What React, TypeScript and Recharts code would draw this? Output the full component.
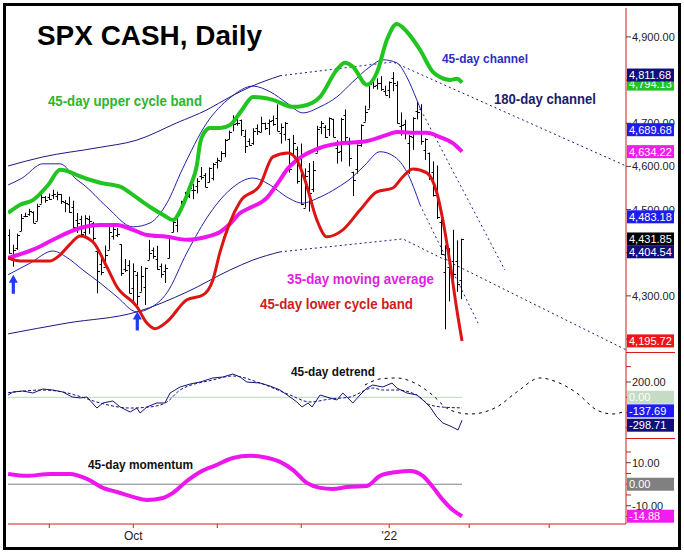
import React from "react";
import { ComposedChart, Bar, Line, Scatter, XAxis, YAxis, ReferenceDot } from "recharts";

// trading-day index: 0 = Aug 18 2021, 95 = Jan 3 2022, 113 = Jan 28 2022
const X_DOMAIN: [number, number] = [-0.33, 154.2];
const MONTH_TICKS = [10, 31, 52, 73, 95, 115, 135];
const MONTH_LABELS: Record<number, string> = { 31: "Oct", 95: "'22" };

const PRICE_DOMAIN: [number, number] = [4170, 4967];
const DETREND_DOMAIN: [number, number] = [-531, 591];
const MOMENTUM_DOMAIN: [number, number] = [-18.5, 21.5];
const PRICE_TICKS = [4200, 4300, 4400, 4500, 4600, 4700, 4800, 4900];
const PRICE_LABELED = [4300, 4500, 4600, 4700, 4900];
const DETREND_TICKS = [400, 200, 0, -200, -400];
const MOMENTUM_TICKS = [15, 10, 5, 0, -5, -10, -15];

// daily OHLC, Aug 18 2021 .. Jan 28 2022
const OPEN = [
  4440.9, 4382.4, 4410.6, 4450.3, 4484.4, 4490.5, 4493.8, 4474.1, 4513.8, 4529.8,
  4528.8, 4534.5, 4532.4, 4535.4, 4518.1, 4513.0, 4506.9, 4474.8, 4479.3, 4447.5, 4477.1, 4469.7, 4402.9, 4374.5, 4367.4, 4406.8, 4438.0, 4442.1, 4419.5, 4362.4, 4370.7,
  4317.2, 4348.8, 4309.9, 4319.6, 4383.7, 4406.5, 4385.4, 4368.3, 4358.0, 4386.8, 4447.7, 4463.7, 4497.3, 4524.4, 4532.2, 4546.1, 4553.7, 4578.7, 4580.2, 4562.8, 4572.9,
  4610.6, 4613.3, 4630.7, 4662.9, 4699.3, 4701.5, 4707.3, 4670.3, 4659.4, 4655.2, 4689.3, 4679.4, 4701.5, 4700.7, 4708.4, 4712.0, 4678.5, 4675.8, 4664.6, 4628.8, 4640.3,
  4602.8, 4504.7, 4589.5, 4548.4, 4632.0, 4690.9, 4691.0, 4687.6, 4710.3, 4642.0, 4636.5, 4719.1, 4652.5, 4587.9, 4595.0, 4650.4, 4704.0, 4734.0, 4795.5, 4788.6, 4794.2, 4775.2,
  4778.1, 4804.5, 4788.0, 4693.4, 4697.7, 4655.3, 4669.1, 4728.6, 4733.6, 4638.0, 4632.2, 4588.0, 4547.4, 4471.4, 4356.3, 4366.6, 4380.6, 4380.6, 4336.2,
];
const HIGH = [
  4454.3, 4418.6, 4444.4, 4489.9, 4492.8, 4501.7, 4495.9, 4513.3, 4537.4, 4531.4,
  4537.1, 4545.9, 4541.5, 4535.4, 4521.8, 4529.9, 4520.5, 4492.0, 4485.7, 4486.9, 4485.9, 4471.5, 4402.9, 4394.9, 4416.8, 4465.4, 4463.1, 4457.3, 4419.5, 4385.6, 4382.6,
  4375.2, 4355.5, 4369.2, 4365.6, 4430.0, 4412.0, 4415.9, 4374.9, 4372.9, 4439.7, 4475.8, 4488.8, 4520.4, 4540.9, 4551.4, 4559.7, 4572.6, 4598.5, 4584.6, 4597.6, 4608.1,
  4620.3, 4635.2, 4663.5, 4683.0, 4718.5, 4714.9, 4708.5, 4684.9, 4664.6, 4688.5, 4697.4, 4715.0, 4701.5, 4708.8, 4717.8, 4743.8, 4699.4, 4702.9, 4664.6, 4673.0, 4646.0,
  4652.9, 4595.5, 4608.0, 4612.6, 4694.0, 4705.1, 4695.3, 4713.6, 4710.3, 4660.5, 4712.6, 4732.0, 4666.7, 4587.9, 4651.1, 4697.7, 4740.7, 4791.5, 4807.0, 4804.1, 4808.9, 4786.8,
  4796.6, 4818.6, 4797.7, 4725.0, 4708.0, 4673.0, 4714.1, 4749.0, 4744.1, 4665.1, 4632.2, 4611.6, 4602.1, 4494.5, 4417.4, 4411.0, 4453.2, 4428.7, 4432.7,
];
const LOW = [
  4397.6, 4367.7, 4406.8, 4450.3, 4482.3, 4485.7, 4469.0, 4474.1, 4513.8, 4515.8,
  4522.0, 4524.7, 4521.7, 4513.0, 4494.0, 4492.1, 4457.7, 4445.7, 4435.5, 4438.4, 4443.8, 4427.8, 4305.9, 4348.0, 4367.4, 4406.8, 4430.3, 4436.2, 4346.3, 4355.1, 4306.2,
  4288.5, 4278.9, 4309.9, 4278.9, 4383.7, 4386.2, 4360.6, 4342.1, 4329.9, 4386.8, 4447.7, 4447.5, 4496.4, 4524.4, 4526.9, 4524.0, 4537.4, 4569.2, 4551.7, 4562.8, 4567.6,
  4595.1, 4613.3, 4621.2, 4662.6, 4681.3, 4694.4, 4670.9, 4630.9, 4648.3, 4650.0, 4672.9, 4679.4, 4684.4, 4672.8, 4694.2, 4682.2, 4652.7, 4659.9, 4585.4, 4625.3, 4560.0,
  4510.3, 4504.7, 4495.1, 4540.5, 4632.0, 4674.5, 4666.0, 4670.2, 4667.6, 4606.5, 4611.2, 4651.9, 4600.2, 4531.1, 4583.2, 4645.5, 4704.0, 4734.0, 4780.0, 4778.1, 4775.3, 4765.8,
  4758.2, 4774.3, 4699.4, 4671.3, 4662.7, 4582.2, 4638.3, 4709.0, 4650.3, 4614.8, 4568.7, 4530.2, 4478.0, 4395.3, 4222.6, 4287.1, 4304.8, 4309.5, 4292.5,
];
const CLOSE = [
  4400.3, 4405.8, 4441.7, 4479.5, 4486.2, 4496.2, 4470.0, 4509.4, 4528.8, 4522.7,
  4524.1, 4537.0, 4535.4, 4520.0, 4514.1, 4493.3, 4458.6, 4468.7, 4443.1, 4480.7, 4473.8, 4433.0, 4357.7, 4354.2, 4395.6, 4449.0, 4455.5, 4443.1, 4352.6, 4359.5, 4307.5,
  4357.0, 4300.5, 4345.7, 4363.6, 4399.8, 4391.3, 4361.2, 4350.7, 4363.8, 4438.3, 4471.4, 4486.5, 4519.6, 4536.2, 4549.8, 4544.9, 4566.5, 4574.8, 4551.7, 4596.4, 4605.4,
  4613.7, 4630.7, 4660.6, 4680.1, 4697.5, 4701.7, 4685.3, 4646.7, 4649.3, 4682.9, 4682.8, 4700.9, 4688.7, 4704.5, 4698.0, 4682.9, 4690.7, 4701.5, 4594.6, 4655.3, 4567.0,
  4513.0, 4577.1, 4538.4, 4591.7, 4686.8, 4701.2, 4667.5, 4712.0, 4669.0, 4634.1, 4709.9, 4668.7, 4620.6, 4568.0, 4649.2, 4696.6, 4725.8, 4791.2, 4786.4, 4793.1, 4778.7, 4766.2,
  4796.6, 4793.5, 4700.6, 4696.1, 4677.0, 4670.3, 4713.1, 4726.4, 4659.0, 4662.9, 4577.1, 4532.8, 4482.7, 4397.9, 4410.1, 4356.5, 4349.9, 4326.5, 4431.85,
];

// 45-day upper cycle band
const UPPER_BAND_X = [-0.3, 2.7, 5.9, 9.7, 12.7, 15.2, 16.9, 22.7, 27.7, 30.9, 35.2, 38.4, 40.9, 43.2, 45.2, 46.9, 47.7, 48.7, 50.2, 52.7, 55.2, 58.2, 60.9, 63.4, 65.9, 70.9, 73.4, 77.7, 81.9, 83.9, 85.9, 89.4, 91.9, 94.4, 96.9, 99.4, 102.7, 105.9, 107.7, 110.2, 111.9, 113.2];
const UPPER_BAND = [4492, 4511, 4522, 4557, 4592, 4587, 4580, 4562, 4553, 4534, 4506, 4488, 4476, 4506, 4553, 4603, 4654, 4678, 4689, 4689, 4696, 4731, 4761, 4759, 4754, 4738, 4740, 4761, 4824, 4840, 4831, 4789, 4817, 4893, 4930, 4912, 4870, 4819, 4807, 4800, 4803, 4794.13];

// 35-day moving average
const MA_X = [-0.3, 5.9, 10.9, 16.9, 22.7, 26.9, 30.9, 34.4, 39.4, 44.4, 49.4, 52.7, 55.2, 57.7, 60.2, 64.4, 67.7, 69.4, 72.7, 77.7, 83.4, 88.4, 94.4, 96.9, 100.2, 104.4, 107.7, 110.9, 113.2];
const MA = [4388, 4407, 4430, 4455, 4464, 4464, 4453, 4441, 4437, 4430, 4437, 4448, 4467, 4492, 4504, 4527, 4569, 4592, 4620, 4643, 4654, 4657, 4673, 4680, 4678, 4678, 4668, 4654, 4634.22];

// 45-day lower cycle band
const LOWER_BAND_X = [-0.3, 2.7, 10.2, 12.7, 15.2, 17.7, 20.9, 24.4, 26.9, 31.9, 34.4, 36.4, 39.4, 44.4, 48.4, 50.9, 52.7, 55.2, 57.7, 62.7, 65.9, 69.7, 71.9, 73.9, 76.9, 79.4, 83.4, 87.7, 91.9, 95.9, 98.4, 100.9, 104.4, 106.9, 108.4, 110.2, 111.9, 113.2];
const LOWER_BAND = [4388, 4381, 4381, 4395, 4420, 4439, 4425, 4367, 4321, 4275, 4237, 4224, 4240, 4291, 4302, 4337, 4402, 4471, 4518, 4557, 4622, 4631, 4615, 4569, 4476, 4437, 4453, 4499, 4541, 4550, 4576, 4594, 4585, 4539, 4476, 4376, 4268, 4195.72];

// 45-day channel
const CH45_UP_X = [-0.3, 3.2, 8.4, 12.7, 16.9, 18.4, 24.4, 30.9, 35.2, 39.4, 43.2, 49.4, 55.2, 60.9, 65.2, 69.4, 73.4, 77.7, 81.9, 85.9, 90.2, 93.4, 96.9, 99.4, 101.9, 102.9];
const CH45_UP = [4557, 4573, 4606, 4606, 4569, 4559, 4506, 4460, 4469, 4515, 4592, 4701, 4759, 4786, 4773, 4747, 4724, 4738, 4761, 4796, 4831, 4847, 4840, 4807, 4754, 4731];
const CH45_UP_PROJ_X = [102.9, 123.9];
const CH45_UP_PROJ = [4731, 4360];
const CH45_DN_X = [-0.3, 5.2, 10.9, 14.4, 18.4, 22.7, 26.9, 31.9, 35.2, 39.4, 44.4, 50.2, 55.2, 60.9, 65.2, 69.4, 73.2, 77.7, 81.9, 85.9, 88.9, 92.7, 96.4, 99.4, 102.7];
const CH45_DN = [4349, 4376, 4404, 4389, 4360, 4330, 4298, 4263, 4272, 4307, 4400, 4492, 4546, 4573, 4557, 4529, 4515, 4529, 4550, 4576, 4603, 4634, 4622, 4587, 4511];
const CH45_DN_PROJ_X = [102.7, 117.2];
const CH45_DN_PROJ = [4511, 4237];

// 180-day channel
const CH180_UP_X = [-0.3, 8.4, 21.9, 31.9, 41.9, 49.4, 55.2, 60.2, 67.7];
const CH180_UP = [4601, 4622, 4643, 4661, 4701, 4731, 4761, 4784, 4810];
const CH180_UP_PROJ_X = [67.7, 95.9, 154.2];
const CH180_UP_PROJ = [4810, 4842, 4601];
const CH180_DN_X = [-0.3, 14.4, 31.9, 44.4, 55.2, 60.9, 67.7];
const CH180_DN = [4212, 4237, 4263, 4309, 4360, 4383, 4402];
const CH180_DN_PROJ_X = [67.7, 98.4, 154.2];
const CH180_DN_PROJ = [4402, 4432, 4175];

// cycle-low arrows
const ARROW_X = [1, 32];
const ARROW_Y = [4349, 4264];

// 45-day detrend
const DETREND_X = [-0.3, 0.9, 3.4, 5.9, 8.4, 10.9, 13.4, 15.7, 17.7, 19.4, 21.9, 23.4, 25.9, 27.7, 30.2, 31.9, 32.7, 34.4, 36.9, 38.9, 40.2, 42.7, 45.2, 47.7, 50.9, 53.4, 55.9, 57.7, 59.4, 62.7, 65.2, 67.7, 70.2, 71.9, 73.2, 74.7, 75.7, 77.7, 80.2, 81.9, 83.4, 85.9, 87.7, 89.4, 90.9, 93.4, 95.7, 96.9, 99.4, 101.9, 103.4, 105.2, 106.9, 108.4, 110.2, 112.2, 113.2];
const DETREND = [30, 69, 82, 56, 108, 95, 69, 4, -9, 4, -140, -74, -48, -126, -192, -140, -205, -126, -74, -74, 56, 134, 173, 199, 252, 265, 304, 265, 199, 186, 147, 95, 4, -61, -126, -74, -126, 30, -9, -35, 56, -74, 30, 121, 160, 134, 186, 121, 56, 30, -35, -126, -257, -335, -374, -426, -298.71];
const DETREND_AVG_X = [-0.3, 8.4, 13.4, 17.7, 22.7, 30.2, 35.2, 39.4, 42.7, 50.9, 55.9, 62.7, 70.2, 75.2, 80.2, 85.2, 90.9, 93.4, 96.9, 101.9, 105.2, 109.0, 113.2];
const DETREND_AVG = [60, 95, 69, 10, -74, -140, -126, -61, 95, 226, 278, 186, 30, -61, -22, 4, 121, 95, 95, 30, -100, -130, -137.69];
const CYCLE_PROJ_X = [88.9, 92.7, 96.9, 101.4, 105.2, 110.2, 115.2, 121.9, 126.9, 132.7, 136.9, 141.9, 146.9, 150.9, 153.4];
const CYCLE_PROJ = [160, 239, 252, 186, 56, -166, -218, -126, 69, 252, 200, 56, -166, -218, -192];

// 45-day momentum
const MOMENTUM_X = [-0.3, 4.4, 10.2, 15.2, 19.4, 23.4, 26.9, 30.9, 34.4, 38.4, 40.9, 44.4, 47.7, 51.9, 55.9, 60.2, 63.4, 67.7, 70.9, 74.4, 77.7, 80.9, 84.4, 89.4, 92.7, 96.9, 100.2, 103.4, 105.9, 108.4, 110.9, 113.2];
const MOMENTUM = [4.8, 3.9, 4.8, 4.8, 2.5, -1.7, -3.6, -5.9, -7.3, -6.4, -4.0, 1.5, 5.7, 9.0, 12.2, 13.2, 12.7, 10.4, 6.7, 0.6, -1.7, -2.2, -1.3, -0.8, 3.9, 5.7, 6.2, 3.9, -1.3, -7.3, -12.0, -14.88];

const ZERO_X = [-0.33, 113.2];

const pts = (xs: number[], ys: number[]) => xs.map((x, i) => ({ x, y: ys[i] }));

const BARS = OPEN.map((o, i) => ({ x: i, o, h: HIGH[i], l: LOW[i], c: CLOSE[i], range: [LOW[i], HIGH[i]] }));

const FONT = "'Liberation Sans', Arial, sans-serif";
const RED_AXIS = "#d41a1a";

const fmt = (v: number) =>
  v.toLocaleString("en-US", { minimumFractionDigits: 2, maximumFractionDigits: 2 });

const makeTick = (show: (v: number) => boolean) => (props: any) => {
  const { x, y, payload } = props;
  const on = show(payload.value);
  return (
    <g>
      <line x1={x} x2={x + 5} y1={y} y2={y} stroke={on ? "#444" : RED_AXIS} />
      {on && (
        <text x={x + 6} y={y + 4} fontSize={11} fill="#222" textAnchor="start" fontFamily={FONT}>
          {fmt(payload.value)}
        </text>
      )}
    </g>
  );
};

const OhlcShape = (props: any) => {
  const { x, y, width, height, payload } = props;
  if (!payload || !isFinite(y) || !isFinite(height)) return null;
  const cx = Math.round(x + width / 2) + 0.5;
  const span = payload.h - payload.l || 1;
  const py = (v: number) => Math.round(y + ((payload.h - v) / span) * height) + 0.5;
  return (
    <g stroke="#000" strokeWidth={1}>
      <line x1={cx} x2={cx} y1={y} y2={y + height} />
      <line x1={cx - 2} x2={cx} y1={py(payload.o)} y2={py(payload.o)} />
      <line x1={cx} x2={cx + 2.5} y1={py(payload.c)} y2={py(payload.c)} />
    </g>
  );
};

const ArrowShape = (props: any) => {
  const { cx, cy } = props;
  const d = `M${cx},${cy} L${cx + 4.5},${cy + 8} L${cx + 1.6},${cy + 8} L${cx + 1.6},${cy + 19} L${cx - 1.6},${cy + 19} L${cx - 1.6},${cy + 8} L${cx - 4.5},${cy + 8} Z`;
  return <path d={d} fill="#1f3cf2" />;
};

const valueBox = (bg: string, value: number, dy = 0) => (props: any) => {
  const { cx, cy } = props;
  return (
    <g>
      <rect x={cx + 1} y={cy - 6.5 + dy} width={47} height={13} fill={bg} />
      <text x={cx + 3} y={cy + 4 + dy} fontSize={11} fill="#fff" fontFamily={FONT}>
        {fmt(value)}
      </text>
    </g>
  );
};

const xAxisHidden = (
  <XAxis type="number" dataKey="x" domain={X_DOMAIN} allowDataOverflow hide />
);

const yAxisProps = {
  orientation: "right" as const,
  width: 58,
  type: "number" as const,
  allowDataOverflow: true,
  tickLine: false,
  tickSize: 0,
  tickMargin: 0,
  interval: 0 as const,
  axisLine: { stroke: RED_AXIS },
};

// same scales as the panel under it, only used to draw the value boxes on top of the tick labels
const boxMargin = { top: 0, right: 58, bottom: 0, left: 8 };

const Note = ({ x, y, w, size, color, children }: any) => (
  <text
    x={x}
    y={y}
    fontSize={size}
    fontWeight="bold"
    fill={color}
    textLength={w}
    lengthAdjust="spacingAndGlyphs"
    fontFamily={FONT}
  >
    {children}
  </text>
);

const layer = (top: number) => ({ position: "absolute" as const, left: 0, top });

export default function App() {
  const MAX_X = X_DOMAIN[1];
  return (
    <div style={{ position: "absolute", left: 0, top: 0, width: 684, height: 552, background: "#fff", overflow: "hidden" }}>
      {/* price panel */}
      <div style={layer(0)}>
        <ComposedChart width={684} height={352} data={BARS} margin={{ top: 8, right: 0, bottom: 0, left: 8 }}>
          {xAxisHidden}
          <YAxis {...yAxisProps} domain={PRICE_DOMAIN} ticks={PRICE_TICKS} tick={makeTick((v) => PRICE_LABELED.includes(v))} />
          <Bar dataKey="range" barSize={3} shape={<OhlcShape />} isAnimationActive={false} />
          <Line data={pts(CH180_UP_X, CH180_UP)} dataKey="y" type="monotone" stroke="#1a1a80" strokeWidth={1} dot={false} isAnimationActive={false} />
          <Line data={pts(CH180_UP_PROJ_X, CH180_UP_PROJ)} dataKey="y" type="linear" stroke="#1a1a80" strokeWidth={1} strokeDasharray="2 3" dot={false} isAnimationActive={false} />
          <Line data={pts(CH180_DN_X, CH180_DN)} dataKey="y" type="monotone" stroke="#1a1a80" strokeWidth={1} dot={false} isAnimationActive={false} />
          <Line data={pts(CH180_DN_PROJ_X, CH180_DN_PROJ)} dataKey="y" type="linear" stroke="#1a1a80" strokeWidth={1} strokeDasharray="2 3" dot={false} isAnimationActive={false} />
          <Line data={pts(CH45_UP_X, CH45_UP)} dataKey="y" type="monotone" stroke="#2222a8" strokeWidth={1} dot={false} isAnimationActive={false} />
          <Line data={pts(CH45_UP_PROJ_X, CH45_UP_PROJ)} dataKey="y" type="linear" stroke="#2222a8" strokeWidth={1} strokeDasharray="2 3" dot={false} isAnimationActive={false} />
          <Line data={pts(CH45_DN_X, CH45_DN)} dataKey="y" type="monotone" stroke="#2222a8" strokeWidth={1} dot={false} isAnimationActive={false} />
          <Line data={pts(CH45_DN_PROJ_X, CH45_DN_PROJ)} dataKey="y" type="linear" stroke="#2222a8" strokeWidth={1} strokeDasharray="2 3" dot={false} isAnimationActive={false} />
          <Line data={pts(MA_X, MA)} dataKey="y" type="monotone" stroke="#ee16ee" strokeWidth={4} dot={false} isAnimationActive={false} />
          <Line data={pts(LOWER_BAND_X, LOWER_BAND)} dataKey="y" type="monotone" stroke="#dd1414" strokeWidth={3} dot={false} isAnimationActive={false} />
          <Line data={pts(UPPER_BAND_X, UPPER_BAND)} dataKey="y" type="monotone" stroke="#22c422" strokeWidth={4} dot={false} isAnimationActive={false} />
          <Scatter data={pts(ARROW_X, ARROW_Y)} dataKey="y" shape={<ArrowShape />} isAnimationActive={false} />
        </ComposedChart>
      </div>
      <div style={layer(0)}>
        <ComposedChart width={684} height={352} margin={{ ...boxMargin, top: 8 }}>
          {xAxisHidden}
          <YAxis type="number" domain={PRICE_DOMAIN} allowDataOverflow hide />
          <ReferenceDot x={MAX_X} y={4794.13} r={0} ifOverflow="visible" shape={valueBox("#22c422", 4794.13, 1.5)} />
          <ReferenceDot x={MAX_X} y={4811.68} r={0} ifOverflow="visible" shape={valueBox("#101078", 4811.68)} />
          <ReferenceDot x={MAX_X} y={4689.68} r={0} ifOverflow="visible" shape={valueBox("#1c1cf0", 4689.68, 2)} />
          <ReferenceDot x={MAX_X} y={4634.22} r={0} ifOverflow="visible" shape={valueBox("#f01cf0", 4634.22)} />
          <ReferenceDot x={MAX_X} y={4483.18} r={0} ifOverflow="visible" shape={valueBox("#1c1cf0", 4483.18)} />
          <ReferenceDot x={MAX_X} y={4431.85} r={0} ifOverflow="visible" shape={valueBox("#000000", 4431.85)} />
          <ReferenceDot x={MAX_X} y={4404.54} r={0} ifOverflow="visible" shape={valueBox("#101078", 4404.54, 1)} />
          <ReferenceDot x={MAX_X} y={4195.72} r={0} ifOverflow="visible" shape={valueBox("#f01414", 4195.72)} />
        </ComposedChart>
      </div>

      {/* detrend panel */}
      <div style={layer(352)}>
        <ComposedChart width={684} height={86} margin={{ top: 0, right: 0, bottom: 0, left: 8 }}>
          {xAxisHidden}
          <YAxis {...yAxisProps} domain={DETREND_DOMAIN} ticks={DETREND_TICKS} tick={makeTick((v) => v === 200)} />
          <Line data={pts(ZERO_X, [0, 0])} dataKey="y" type="linear" stroke="#bcd6bc" strokeWidth={1} dot={false} isAnimationActive={false} />
          <Line data={pts(CYCLE_PROJ_X, CYCLE_PROJ)} dataKey="y" type="monotone" stroke="#000" strokeWidth={1} strokeDasharray="3 4" dot={false} isAnimationActive={false} />
          <Line data={pts(DETREND_AVG_X, DETREND_AVG)} dataKey="y" type="monotone" stroke="#14147a" strokeWidth={1} strokeDasharray="3 2" dot={false} isAnimationActive={false} />
          <Line data={pts(DETREND_X, DETREND)} dataKey="y" type="linear" stroke="#14147a" strokeWidth={1} dot={false} isAnimationActive={false} />
        </ComposedChart>
      </div>
      <div style={layer(352)}>
        <ComposedChart width={684} height={86} margin={boxMargin}>
          {xAxisHidden}
          <YAxis type="number" domain={DETREND_DOMAIN} allowDataOverflow hide />
          <ReferenceDot x={MAX_X} y={0} r={0} ifOverflow="visible" shape={valueBox("#c4dcc4", 0)} />
          <ReferenceDot x={MAX_X} y={-137.69} r={0} ifOverflow="visible" shape={valueBox("#1c1cf0", -137.69, 3)} />
          <ReferenceDot x={MAX_X} y={-298.71} r={0} ifOverflow="visible" shape={valueBox("#101078", -298.71, 5)} />
        </ComposedChart>
      </div>

      {/* momentum panel */}
      <div style={layer(438)}>
        <ComposedChart width={684} height={114} margin={{ top: 0, right: 0, bottom: 0, left: 8 }}>
          <XAxis
            type="number"
            dataKey="x"
            domain={X_DOMAIN}
            allowDataOverflow
            ticks={MONTH_TICKS}
            interval={0}
            height={28}
            tickSize={4}
            tickMargin={3}
            axisLine={{ stroke: RED_AXIS }}
            tickLine={{ stroke: RED_AXIS }}
            tick={{ fontSize: 12, fill: "#222", fontFamily: FONT }}
            tickFormatter={(v: number) => MONTH_LABELS[v] ?? ""}
          />
          <YAxis {...yAxisProps} domain={MOMENTUM_DOMAIN} ticks={MOMENTUM_TICKS} tick={makeTick((v) => v === 10 || v === -10)} />
          <Line data={pts(ZERO_X, [0, 0])} dataKey="y" type="linear" stroke="#808080" strokeWidth={1} dot={false} isAnimationActive={false} />
          <Line data={pts(MOMENTUM_X, MOMENTUM)} dataKey="y" type="monotone" stroke="#ee16ee" strokeWidth={4} dot={false} isAnimationActive={false} />
        </ComposedChart>
      </div>
      <div style={layer(438)}>
        <ComposedChart width={684} height={86} margin={boxMargin}>
          {xAxisHidden}
          <YAxis type="number" domain={MOMENTUM_DOMAIN} allowDataOverflow hide />
          <ReferenceDot x={MAX_X} y={0} r={0} ifOverflow="visible" shape={valueBox("#808080", 0)} />
          <ReferenceDot x={MAX_X} y={-14.88} r={0} ifOverflow="visible" shape={valueBox("#f01cf0", -14.88)} />
        </ComposedChart>
      </div>

      {/* annotations */}
      <svg width={684} height={552} style={{ position: "absolute", left: 0, top: 0, pointerEvents: "none" }}>
        <Note x={37} y={45} w={225} size={28} color="#000">SPX CASH, Daily</Note>
        <Note x={48} y={106} w={154} size={14} color="#2eb42e">45-day upper cycle band</Note>
        <Note x={442} y={63} w={86} size={13} color="#2c2cc8">45-day channel</Note>
        <Note x={494} y={104} w={102} size={14} color="#1c1c6c">180-day channel</Note>
        <Note x={287} y={284} w={147} size={14} color="#e01ee0">35-day moving average</Note>
        <Note x={260} y={309} w={153} size={14} color="#cc1e1e">45-day lower cycle band</Note>
        <Note x={291} y={376} w={84} size={13} color="#111">45-day detrend</Note>
        <Note x={88} y={469} w={105} size={13} color="#111">45-day momentum</Note>
        <line x1={626} x2={675} y1={352.5} y2={352.5} stroke={RED_AXIS} />
        <line x1={626} x2={675} y1={438.5} y2={438.5} stroke={RED_AXIS} />
      </svg>
      <div style={{ position: "absolute", left: 3, top: 3, width: 678, height: 547, border: "3px solid #000", boxSizing: "border-box", pointerEvents: "none" }} />
    </div>
  );
}
